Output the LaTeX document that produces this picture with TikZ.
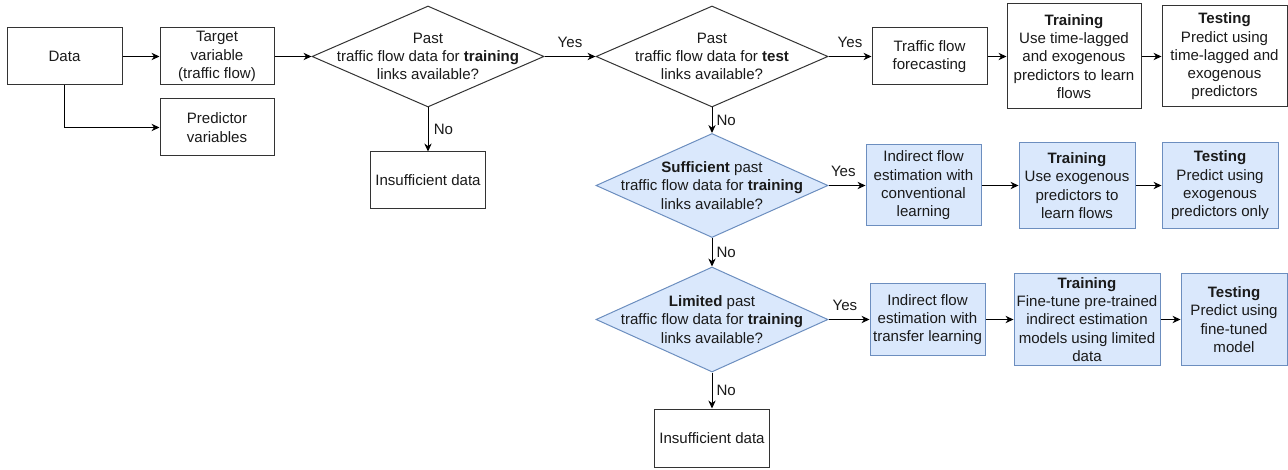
\documentclass[tikz,border=0pt]{standalone}
\usepackage{fontspec}
\setmainfont{Liberation Sans}
\usetikzlibrary{shapes.geometric,arrows.meta}
\definecolor{ink}{HTML}{1A1A1A}
\definecolor{edge}{HTML}{333333}
\definecolor{bluefill}{HTML}{DAE8FC}
\definecolor{bluedraw}{HTML}{6C8EBF}
\begin{document}
\begin{tikzpicture}[x=0.75pt,y=-0.75pt,
  font=\fontsize{11.3pt}{13.7pt}\selectfont, text=ink,
  plainbox/.style={draw=edge, line width=0.75pt, fill=white, align=center, inner sep=0pt},
  bluebox/.style={draw=bluedraw, line width=0.75pt, fill=bluefill, align=center, inner sep=0pt},
  decision/.style={shape=diamond, inner sep=0pt, line width=0.75pt},
  wd/.style={minimum width=#1*0.75pt},
  ht/.style={minimum height=#1*0.75pt},
  conn/.style={draw=black, line width=0.75pt, -{Stealth[length=6pt,width=5.5pt]}},
  lbl/.style={text=ink, inner sep=2pt}
]
\useasboundingbox (0,0) rectangle (1288,470);

% row 1
\node[plainbox, wd=115, ht=57] (data) at (64.5,56.5) {Data};
\node[plainbox, wd=114, ht=57] (target) at (217,56.5) {Target\\variable\\(traffic flow)};
\node[plainbox, wd=114, ht=57] (pred) at (217,127.5) {Predictor\\variables};
\node[decision, draw=edge, fill=white, wd=232, ht=101,
  label={[align=center]center:Past\\traffic flow data for \textbf{training}\\links available?}] (d1) at (428,56.5) {};
\node[plainbox, wd=115, ht=57] (ins1) at (428,180.5) {Insufficient data};
\node[decision, draw=edge, fill=white, wd=232, ht=101,
  label={[align=center]center:Past\\traffic flow data for \textbf{test}\\links available?}] (d2) at (712,56.5) {};
\node[plainbox, wd=115, ht=57] (tff) at (929.5,56.5) {Traffic flow\\forecasting};
\node[plainbox, wd=134, ht=105] (train1) at (1074,56.5) {\textbf{Training}\\Use time-lagged\\and exogenous\\predictors to learn\\flows};
\node[plainbox, wd=125, ht=101] (test1) at (1224.5,56.5) {\textbf{Testing}\\Predict using\\time-lagged and\\exogenous\\predictors};

% row 2
\node[decision, draw=bluedraw, fill=bluefill, wd=232, ht=104,
  label={[align=center]center:\textbf{Sufficient} past\\traffic flow data for \textbf{training}\\links available?}] (d3) at (712,185.5) {};
\node[bluebox, wd=115, ht=81] (ind1) at (923.5,185.5) {Indirect flow\\estimation with\\conventional\\learning};
\node[bluebox, wd=116, ht=86] (train2) at (1077,185.5) {\textbf{Training}\\Use exogenous\\predictors to\\learn flows};
\node[bluebox, wd=116, ht=86] (test2) at (1220,185.5) {\textbf{Testing}\\Predict using\\exogenous\\predictors only};

% row 3
\node[decision, draw=bluedraw, fill=bluefill, wd=232, ht=105,
  label={[align=center]center:\textbf{Limited} past\\traffic flow data for \textbf{training}\\links available?}] (d4) at (712,319.5) {};
\node[bluebox, wd=115, ht=72] (ind2) at (927.5,319.5) {Indirect flow\\estimation with\\transfer learning};
\node[bluebox, wd=146, ht=91] (train3) at (1087,319.5) {\textbf{Training}\\Fine-tune pre-trained\\indirect estimation\\models using limited\\data};
\node[bluebox, wd=106, ht=91] (test3) at (1234,319.5) {\textbf{Testing}\\Predict using\\fine-tuned\\model};
\node[plainbox, wd=115, ht=58] (ins2) at (712,438) {Insufficient data};

% connectors
\draw[conn] (data.east) -- (target.west);
\draw[conn] (data.south) |- (pred.west);
\draw[conn] (target.east) -- (d1.west);
\draw[conn] (d1.east) -- node[lbl, above=4pt] {Yes} (d2.west);
\draw[conn] (d1.south) -- node[lbl, right=2pt] {No} (ins1.north);
\draw[conn] (d2.east) -- node[lbl, above=4pt] {Yes} (tff.west);
\draw[conn] (tff.east) -- (train1.west);
\draw[conn] (train1.east) -- (test1.west);
\draw[conn] (d2.south) -- node[lbl, right=1pt] {No} (d3.north);
\draw[conn] (d3.east) -- node[lbl, pos=0.4, above=4pt] {Yes} (ind1.west);
\draw[conn] (ind1.east) -- (train2.west);
\draw[conn] (train2.east) -- (test2.west);
\draw[conn] (d3.south) -- node[lbl, right=1pt] {No} (d4.north);
\draw[conn] (d4.east) -- node[lbl, pos=0.4, above=4pt] {Yes} (ind2.west);
\draw[conn] (ind2.east) -- (train3.west);
\draw[conn] (train3.east) -- (test3.west);
\draw[conn] (d4.south) -- node[lbl, right=1pt] {No} (ins2.north);
\end{tikzpicture}
\end{document}
